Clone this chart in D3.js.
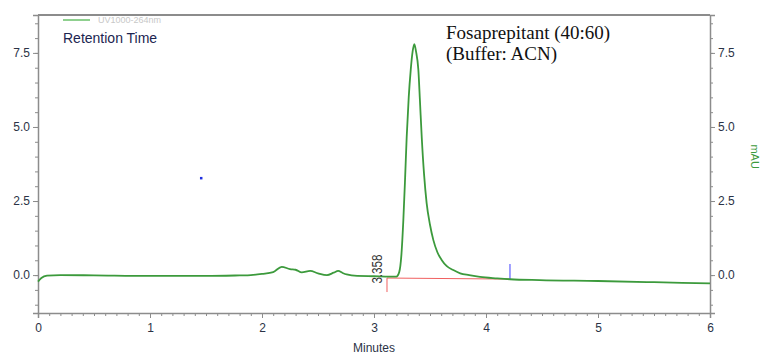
<!DOCTYPE html>
<html>
<head>
<meta charset="utf-8">
<script src="https://cdn.jsdelivr.net/npm/d3@7"></script>
<style>
  body { margin: 0; background: #fff; }
  svg text { font-family: "Liberation Sans Narrow", "Liberation Sans", Arial, sans-serif; }
</style>
</head>
<body>
<svg id="chart" width="760" height="354"></svg>
<script>
// retention time (min) and detector signal (mAU)
const times = [0, 0.03, 0.08, 0.2, 0.5, 1.0, 1.5, 1.8, 1.9, 2.0, 2.1, 2.176, 2.25, 2.3, 2.355, 2.43, 2.5, 2.58, 2.64, 2.68, 2.72, 2.756, 2.85, 3.0, 3.14, 3.2,
  3.225, 3.245, 3.262, 3.278, 3.292, 3.31, 3.328, 3.345, 3.36, 3.375, 3.396, 3.41, 3.426, 3.447, 3.47, 3.5, 3.53, 3.565, 3.604, 3.65, 3.708, 3.77, 3.85, 3.946, 4.1, 4.214, 4.48, 5.0, 5.5, 6.0];
const signal = [-0.22, -0.1, -0.02, 0.0, -0.01, -0.03, -0.03, -0.01, 0.0, 0.04, 0.1, 0.28, 0.2, 0.18, 0.09, 0.14, 0.06, 0.0, 0.08, 0.14, 0.07, 0.02, -0.03, -0.04, -0.05, -0.05,
  0.1, 0.7, 1.86, 3.3, 4.67, 6.0, 6.93, 7.55, 7.8, 7.55, 6.93, 5.9, 4.67, 3.4, 2.43, 1.7, 1.18, 0.78, 0.51, 0.3, 0.17, 0.06, 0.0, -0.06, -0.11, -0.14, -0.17, -0.2, -0.24, -0.28];

const xTicks = [0, 1, 2, 3, 4, 5, 6];
const yTicks = [0, 2.5, 5.0, 7.5];

// integration of the main peak
const peakLabel = "3.358";
const peakStart = [3.116, -0.1];
const peakEnd = [4.214, -0.135];
const strayPoint = [1.455, 3.28];

const svg = d3.select("#chart"),
  margin = { top: 15, right: 50, bottom: 41, left: 38 },
  width = 760 - margin.left - margin.right,
  height = 354 - margin.top - margin.bottom;

const x = d3.scaleLinear().domain([0, 6]).range([margin.left, margin.left + width]);
const y = d3.scaleLinear().domain([-1.28, 8.78]).range([margin.top + height, margin.top]);

const frameColor = "#8c8c8c";
const labelColor = "#2b3346";

// minor ticks
const xMinor = d3.range(0, 6.001, 0.1).map(d => +d.toFixed(1));
const yMinor = d3.range(-1.0, 8.6, 0.5).map(d => +d.toFixed(1));

const gx = svg.append("g").attr("transform", `translate(0,${margin.top + height})`);
gx.call(d3.axisBottom(x).tickValues(xMinor).tickSize(3).tickFormat(""));
gx.call(g => g.select(".domain").remove());
svg.append("g").attr("transform", `translate(0,${margin.top + height})`)
  .call(d3.axisBottom(x).tickValues(xTicks).tickSize(5).tickPadding(5).tickFormat(d3.format("d")));

const gyL = svg.append("g").attr("transform", `translate(${margin.left},0)`);
gyL.call(d3.axisLeft(y).tickValues(yMinor).tickSize(3).tickFormat(""));
gyL.call(g => g.select(".domain").remove());
svg.append("g").attr("transform", `translate(${margin.left},0)`)
  .call(d3.axisLeft(y).tickValues(yTicks).tickSize(5).tickPadding(3).tickFormat(d3.format(".1f")));

const gyR = svg.append("g").attr("transform", `translate(${margin.left + width},0)`);
gyR.call(d3.axisRight(y).tickValues(yMinor).tickSize(3).tickFormat(""));
gyR.call(g => g.select(".domain").remove());
svg.append("g").attr("transform", `translate(${margin.left + width},0)`)
  .call(d3.axisRight(y).tickValues(yTicks).tickSize(5).tickPadding(3).tickFormat(d3.format(".1f")));

svg.selectAll(".tick line").attr("stroke", frameColor);
svg.selectAll(".domain").attr("stroke", frameColor).attr("stroke-width", 1.5);
svg.selectAll(".tick text").attr("fill", labelColor).style("font-size", "12px");

// top border
svg.append("line")
  .attr("x1", margin.left).attr("x2", margin.left + width)
  .attr("y1", margin.top).attr("y2", margin.top)
  .attr("stroke", frameColor).attr("stroke-width", 2);

// integration baseline + markers
svg.append("line")
  .attr("x1", x(peakStart[0])).attr("y1", y(peakStart[1]))
  .attr("x2", x(peakEnd[0])).attr("y2", y(peakEnd[1]))
  .attr("stroke", "#f06060").attr("stroke-width", 1);
svg.append("line")
  .attr("x1", x(peakStart[0])).attr("x2", x(peakStart[0]))
  .attr("y1", y(peakStart[1])).attr("y2", y(peakStart[1]) + 14)
  .attr("stroke", "#f06060").attr("stroke-width", 1);
svg.append("line")
  .attr("x1", x(peakEnd[0])).attr("x2", x(peakEnd[0]))
  .attr("y1", y(peakEnd[1])).attr("y2", y(peakEnd[1]) - 15)
  .attr("stroke", "#8080ff").attr("stroke-width", 1.5);

// trace
const data = times.map((t, i) => ({ t, v: signal[i] }));
const line = d3.line().x(d => x(d.t)).y(d => y(d.v)).curve(d3.curveMonotoneX);
svg.append("path").datum(data)
  .attr("d", line)
  .attr("fill", "none")
  .attr("stroke", "#3c9a3c")
  .attr("stroke-width", 1.8);

// peak label
svg.append("text")
  .attr("transform", `translate(${x(peakStart[0]) - 5},${y(0) - 6}) rotate(-90)`)
  .attr("text-anchor", "middle")
  .attr("fill", "#333")
  .attr("textLength", 29)
  .attr("lengthAdjust", "spacingAndGlyphs")
  .style("font-size", "15px")
  .style("font-family", "Liberation Sans, Arial, sans-serif")
  .text(peakLabel);

// stray dot
svg.append("rect")
  .attr("x", x(strayPoint[0]) - 1).attr("y", y(strayPoint[1]) - 1)
  .attr("width", 2.5).attr("height", 2.5)
  .attr("fill", "#2030e0");

// legend
svg.append("line")
  .attr("x1", 63).attr("x2", 90).attr("y1", 20).attr("y2", 20)
  .attr("stroke", "#6ac06a").attr("stroke-width", 1.5);
svg.append("text").attr("x", 98).attr("y", 23)
  .attr("fill", "#c8c8c8").style("font-size", "9px").text("UV1000-264nm");
svg.append("text").attr("x", 63).attr("y", 43)
  .attr("fill", "#1c2550").style("font-size", "14px")
  .style("font-family", "Liberation Sans, Arial, sans-serif")
  .text("Retention  Time");

// annotation
const note = svg.append("text").attr("fill", "#111")
  .style("font-family", "Liberation Serif, Times New Roman, serif")
  .style("font-size", "19px");
note.append("tspan").attr("x", 446).attr("y", 39).text("Fosaprepitant (40:60)");
note.append("tspan").attr("x", 446).attr("y", 60).text("(Buffer: ACN)");

// axis titles
svg.append("text").attr("x", x(3)).attr("y", 352)
  .attr("text-anchor", "middle").attr("fill", labelColor)
  .style("font-size", "12px").text("Minutes");
svg.append("text")
  .attr("transform", `translate(751,${y(4)}) rotate(90)`)
  .attr("text-anchor", "middle").attr("fill", "#3c9a3c")
  .style("font-size", "11px").text("mAU");
</script>
</body>
</html>
